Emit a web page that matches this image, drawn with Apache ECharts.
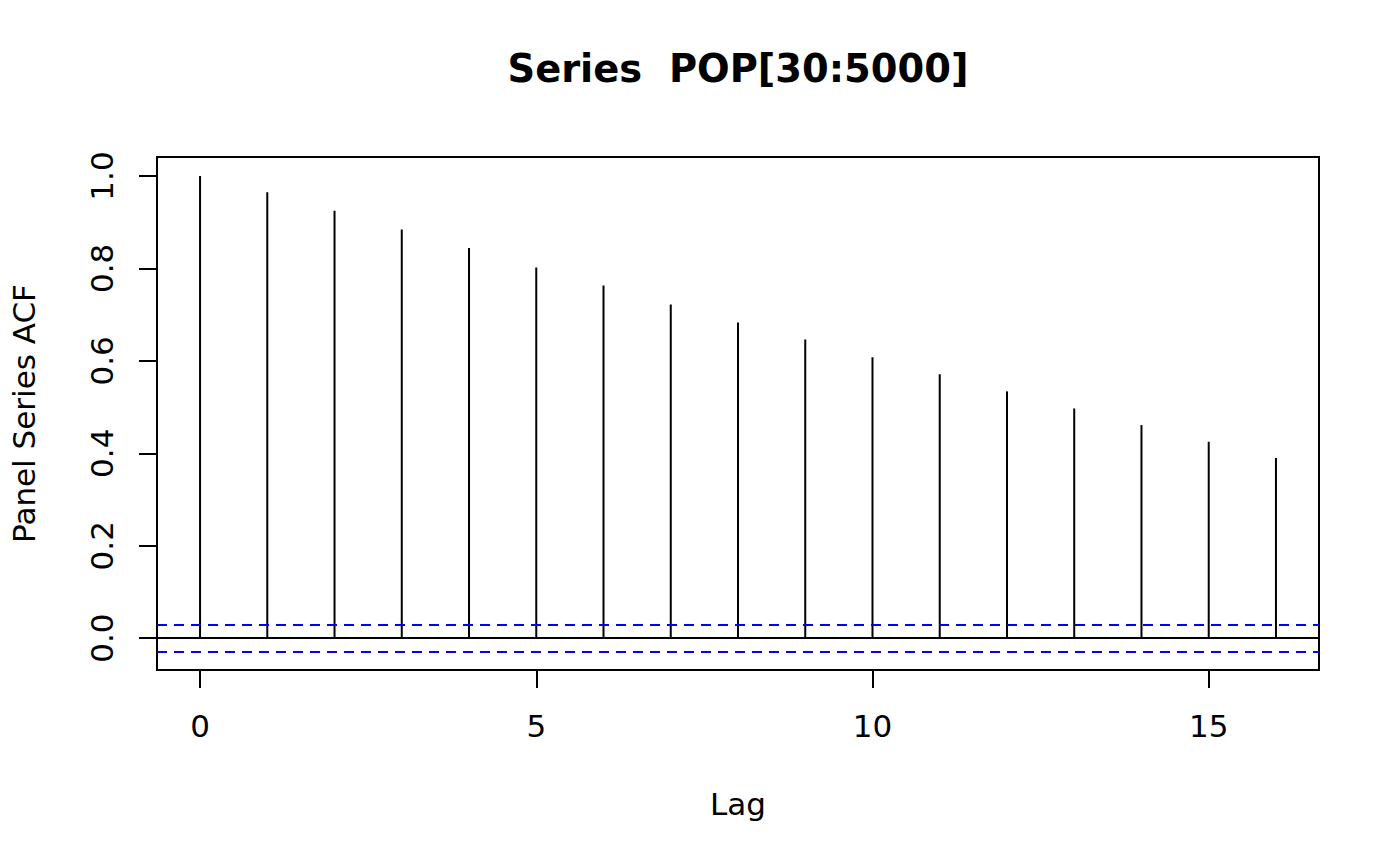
<!DOCTYPE html>
<html><head><meta charset="utf-8">
<script src="https://cdn.jsdelivr.net/npm/echarts@6/dist/echarts.min.js"></script>
<style>html,body{margin:0;padding:0;background:#fff}#c{width:1400px;height:866px}</style>
</head><body><div id="c"></div>
<script>
// ---- data ----
const lags = [0,1,2,3,4,5,6,7,8,9,10,11,12,13,14,15,16];
const acfValues = [1.000,0.965,0.925,0.884,0.844,0.802,0.763,0.722,0.683,0.646,0.608,0.571,0.534,0.497,0.461,0.425,0.390];
const ciBound = 0.0278;
const xTicks = [0,5,10,15];
const yTicks = [0,0.2,0.4,0.6,0.8,1.0];
const titleText = 'Series  POP[30:5000]';
const xName = 'Lag';
const yName = 'Panel Series ACF';

const FONT = 'DejaVu Sans';
const chart = echarts.init(document.getElementById('c'), null, {renderer:'svg'});
const spikeData = lags.map((l,i)=>[l, acfValues[i]]);

chart.setOption({
  animation:false,
  backgroundColor:'#fff',
  graphic:[{type:'text', x:738, y:68, style:{text:titleText, font:'bold 38.4px "DejaVu Sans"', fill:'#000', textAlign:'center', textVerticalAlign:'middle'}}],
  grid:{left:157, right:81, top:157, bottom:196, show:true, borderColor:'#000', borderWidth:2, backgroundColor:'transparent'},
  xAxis:{type:'value', min:-0.64, max:16.64,
    name:xName, nameLocation:'middle', nameGap:118,
    nameTextStyle:{fontFamily:FONT, fontSize:31, color:'#000'},
    axisLine:{show:false, onZero:false}, splitLine:{show:false},
    axisTick:{show:true, inside:false, length:18, lineStyle:{color:'#000', width:2}, customValues:xTicks},
    axisLabel:{show:true, margin:40, fontFamily:FONT, fontSize:31, color:'#000', customValues:xTicks, formatter:v=>String(v)}
  },
  yAxis:{type:'value', min:-0.0689, max:1.0411,
    name:yName, nameLocation:'middle', nameGap:118,
    nameTextStyle:{fontFamily:FONT, fontSize:31, color:'#000'},
    axisLine:{show:false, onZero:false}, splitLine:{show:false},
    axisTick:{show:true, inside:false, length:18, lineStyle:{color:'#000', width:2}, customValues:yTicks},
    axisLabel:{show:true, rotate:90, margin:40, fontFamily:FONT, fontSize:31, color:'#000', customValues:yTicks, formatter:v=>v.toFixed(1)}
  },
  series:[
    {type:'custom', data:spikeData, encode:{x:0,y:1}, silent:true,
      renderItem:(params, api)=>{
        const x = api.value(0), y = api.value(1);
        const p0 = api.coord([x, 0]);
        const p1 = api.coord([x, y]);
        return {type:'line', shape:{x1:p0[0], y1:p0[1], x2:p1[0], y2:p1[1]}, style:{stroke:'#000', lineWidth:2}};
      },
      markLine:{silent:true, symbol:['none','none'], label:{show:false},
        data:[
          {yAxis:0, lineStyle:{color:'#000', width:2, type:'solid'}},
          {yAxis:ciBound, lineStyle:{color:'#0000ff', width:2, type:[10,7]}},
          {yAxis:-ciBound, lineStyle:{color:'#0000ff', width:2, type:[10,7]}}
        ]}
    }
  ]
});
</script></body></html>
